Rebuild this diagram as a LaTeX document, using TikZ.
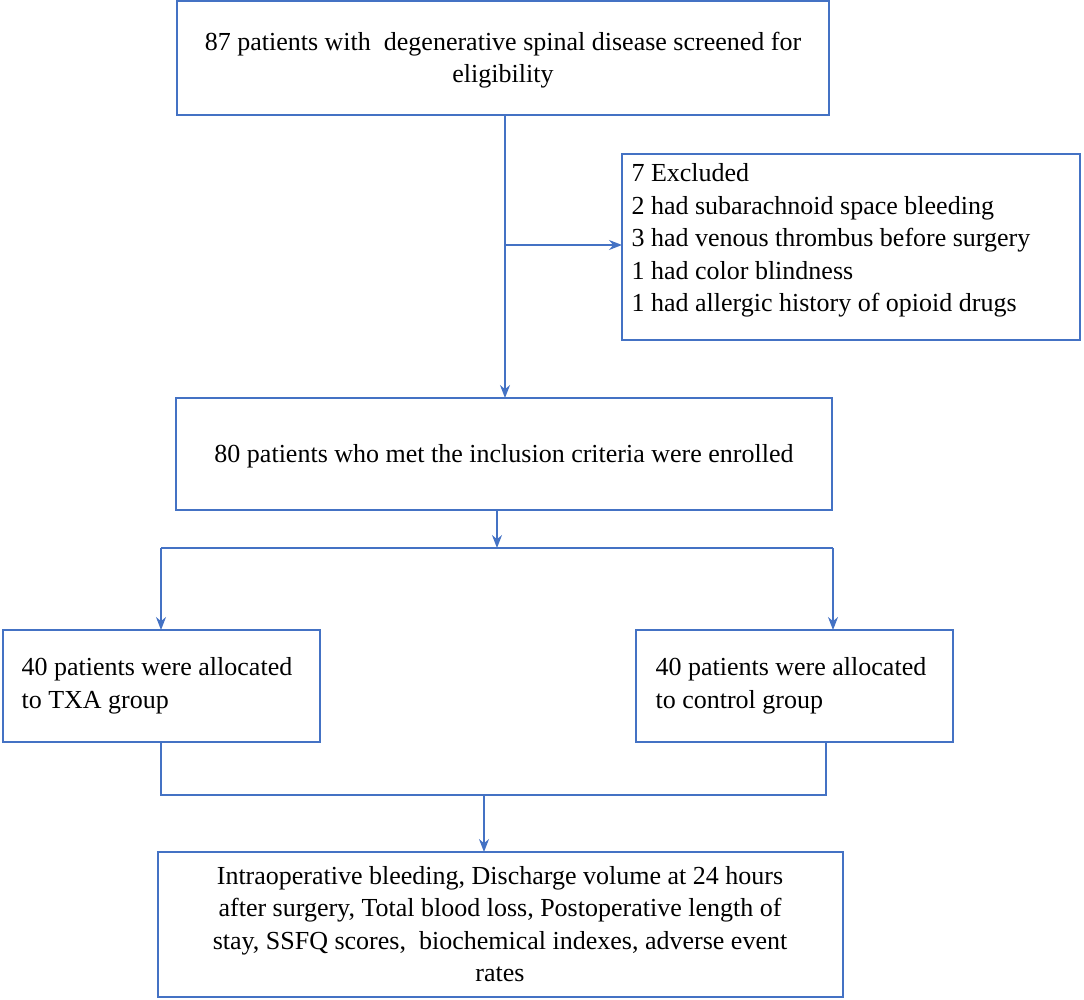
\documentclass[tikz,border=0pt]{standalone}
\usepackage{fontspec}
\setmainfont{Liberation Serif}
\usetikzlibrary{arrows.meta}
\definecolor{bl}{HTML}{4472C4}
\begin{document}
\begin{tikzpicture}[x=1pt,y=-1pt,
  box/.style={draw=bl,line width=1.3pt,inner sep=0pt},
  txt/.style={font=\fontsize{26}{32.5}\selectfont,align=center},
  ln/.style={draw=bl,line width=1.3pt},
  ar/.style={ln,-{Stealth[length=13pt,width=10pt]}}]
\useasboundingbox (0,0) rectangle (1084,999);
\draw[box] (177,1) rectangle (829,115);
\node[txt] (t) at (503,60) {87 patients with \ degenerative spinal disease screened for\\eligibility};
\draw[box] (622,154) rectangle (1080,340);
\node[txt,align=left,anchor=north west] (ex) at (628,160) {7 Excluded\\2 had subarachnoid space bleeding\\3 had venous thrombus before surgery\\1 had color blindness\\1 had allergic history of opioid drugs};
\draw[box] (176,398) rectangle (832,510);
\node[txt] (m) at (504,456) {80 patients who met the inclusion criteria were enrolled};
\draw[box] (3,630) rectangle (320,742);
\node[txt,align=left,anchor=west] (l) at (18,686) {40 patients were allocated\\to TXA group};
\draw[box] (636,630) rectangle (953,742);
\node[txt,align=left,anchor=west] (r) at (652,686) {40 patients were allocated\\to control group};
\draw[box] (158,852) rectangle (843,997);
\node[txt] (b) at (500,924) {Intraoperative bleeding, Discharge volume at 24 hours\\after surgery, Total blood loss, Postoperative length of\\stay, SSFQ scores, \ biochemical indexes, adverse event\\rates};
\coordinate (a1) at (505,115); \coordinate (a2) at (505,398);
\coordinate (a3) at (505,245); \coordinate (a4) at (622,245);
\draw[ar] (a1) -- (a2);
\draw[ar] (a3) -- (a4);
\coordinate (c1) at (497,510); \coordinate (c2) at (497,548);
\coordinate (c3) at (161,548); \coordinate (c4) at (833,548);
\coordinate (c5) at (161,630); \coordinate (c6) at (833,630);
\draw[ar] (c1) -- (c2);
\draw[ln] (c3) -- (c4);
\draw[ar] (c3) -- (c5);
\draw[ar] (c4) -- (c6);
\coordinate (d1) at (161,742); \coordinate (d2) at (161,795);
\coordinate (d3) at (826,742); \coordinate (d4) at (826,795);
\coordinate (d5) at (484,795); \coordinate (d6) at (484,852);
\draw[ln] (d1) -- (d2) -- (d4) -- (d3);
\draw[ar] (d5) -- (d6);
\end{tikzpicture}
\end{document}
